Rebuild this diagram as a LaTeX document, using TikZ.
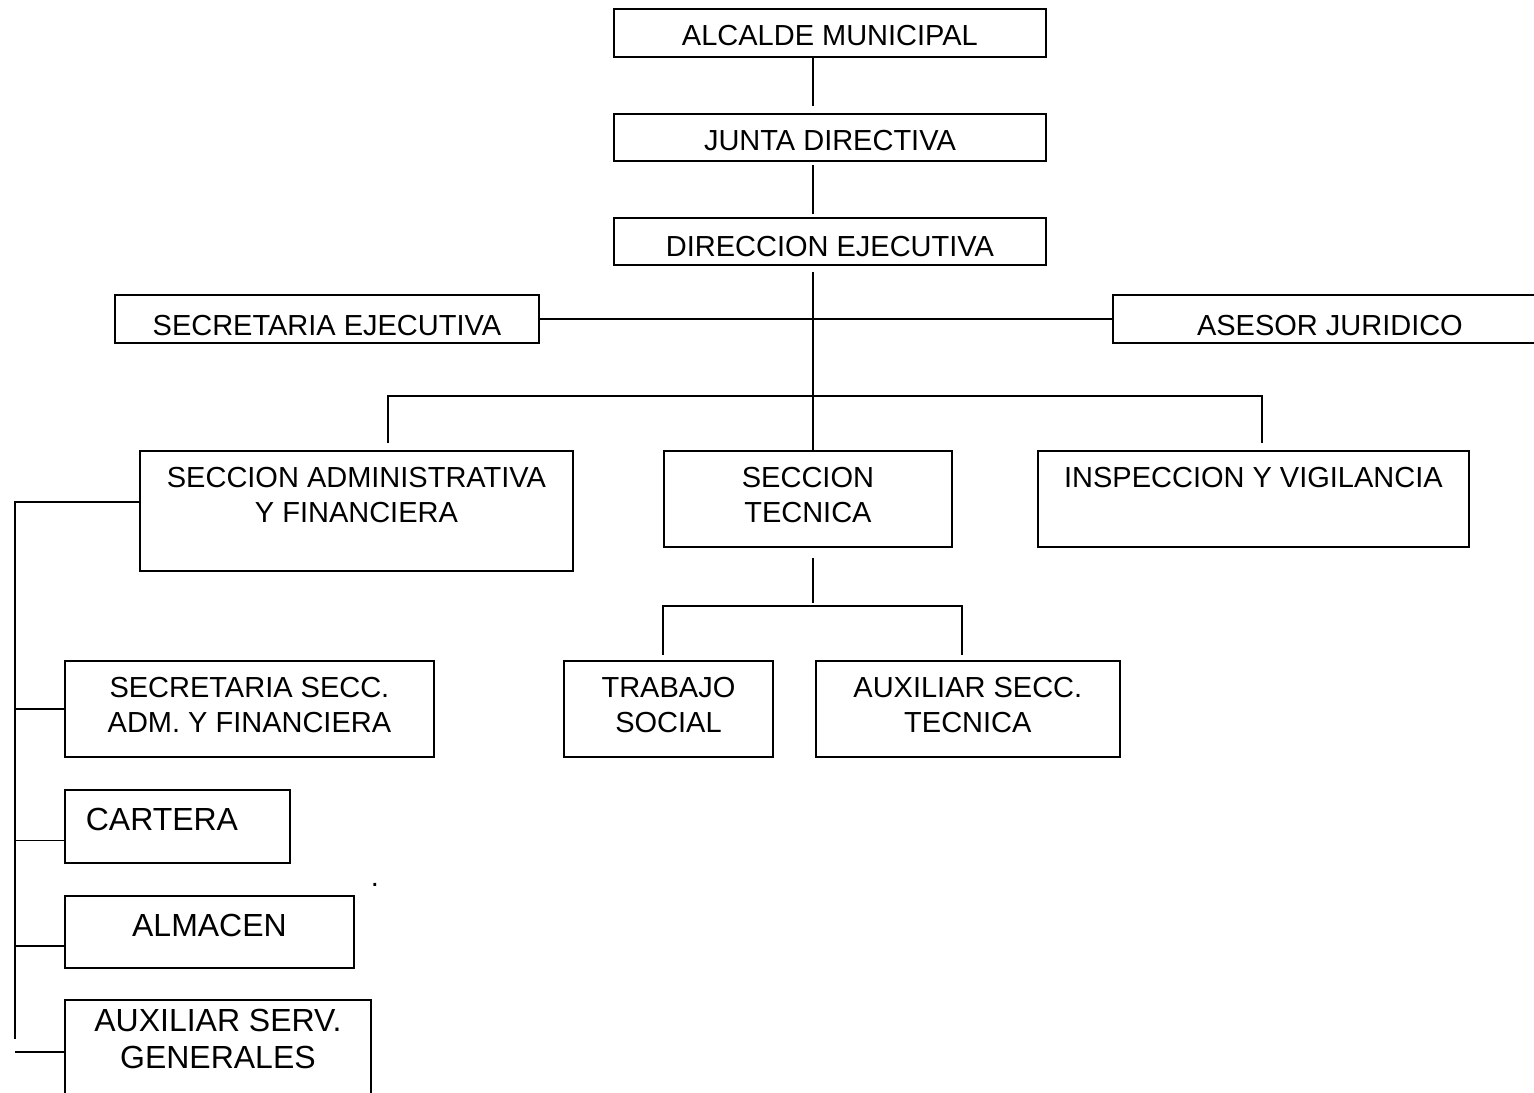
\documentclass[tikz,border=0pt]{standalone}
\usepackage{fontspec}
\setmainfont{Liberation Sans}
\usetikzlibrary{positioning,calc}

\begin{document}
\begin{tikzpicture}[
    x=0.02cm, y=-0.02cm,
    line width=1.1pt,
    orgbox/.style={draw, rectangle, inner sep=0pt, anchor=north west, align=center, text height=0.74cm, font=\fontsize{16.5}{19.75}\selectfont},
    two lines/.style={text height=1.43cm},
    big text/.style={font=\fontsize{18.2}{20.9}\selectfont}
]
  \useasboundingbox (0,0) rectangle (1534,1092);
  \clip (0,0) rectangle (1534,1092);

  % upper chain
  \node[orgbox, minimum width=8.64cm, text depth=0.22cm] (alcalde) at (613,8) {ALCALDE MUNICIPAL};
  \node[orgbox, minimum width=8.64cm, text depth=0.20cm, below=1.1cm of alcalde] (junta) {JUNTA DIRECTIVA};
  \node[orgbox, minimum width=8.64cm, text height=0.77cm, text depth=0.17cm, below=1.1cm of junta] (direccion) {DIRECCION EJECUTIVA};
  \node[orgbox, minimum width=8.48cm, text height=0.82cm, text depth=0.14cm] (secej) at (114,294) {SECRETARIA EJECUTIVA};
  \node[orgbox, minimum width=8.68cm, text height=0.82cm, text depth=0.14cm] (asesor) at (1112,294) {ASESOR JURIDICO};

  % sections
  \node[orgbox, two lines, minimum width=8.66cm, text depth=0.97cm] (admin) at (139,450) {SECCION ADMINISTRATIVA\\Y FINANCIERA};
  \node[orgbox, two lines, minimum width=5.76cm, text depth=0.49cm] (tecnica) at (663,450) {SECCION\\TECNICA};
  \node[orgbox, minimum width=8.62cm, text depth=1.18cm] (insp) at (1037,450) {INSPECCION Y VIGILANCIA};
  \node[orgbox, two lines, minimum width=4.18cm, text depth=0.49cm] (trabajo) at (563,660) {TRABAJO\\SOCIAL};
  \node[orgbox, two lines, minimum width=6.08cm, text depth=0.49cm, right=0.82cm of trabajo] (auxtec) {AUXILIAR SECC.\\TECNICA};

  % left column
  \node[orgbox, two lines, minimum width=7.38cm, text depth=0.49cm] (secadm) at (64,660) {SECRETARIA SECC.\\ADM. Y FINANCIERA};
  \node[orgbox, big text, minimum width=4.5cm, text height=0.82cm, text depth=0.64cm] (cartera) at (64,789) {CARTERA\hspace*{0.62cm}};
  \node[orgbox, big text, minimum width=5.78cm, text height=0.82cm, text depth=0.62cm] (almacen) at (64,895) {ALMACEN};
  \node[orgbox, big text, minimum width=6.12cm, text height=1.37cm, text depth=0.71cm] (auxserv) at (64,999) {AUXILIAR SERV.\\GENERALES};
  \node[font=\fontsize{16.5}{19.75}\selectfont, inner sep=0pt, anchor=base] (stray) at (375,886) {.};

  \coordinate (spine) at (813,0);
  \coordinate (busl) at (388,396);
  \coordinate (busr) at (1262,396);
  \coordinate (subl) at (663,606);
  \coordinate (subr) at (962,606);
  \coordinate (ltop) at (15,502);
  \coordinate (lend) at (15,1039);

  \draw[shorten >=0.14cm] (alcalde.south -| spine) -- (junta.north -| spine);
  \draw[shorten <=0.06cm, shorten >=0.06cm] (junta.south -| spine) -- (direccion.north -| spine);
  \draw[shorten <=0.12cm] (direccion.south -| spine) -- (tecnica.north -| spine);
  \draw (secej) -- (asesor);
  \draw[shorten <=0.14cm, shorten >=0.14cm] (admin.north -| busl) -- (busl) -- (busr) -- (insp.north -| busr);
  \draw[shorten <=0.2cm, shorten >=0.06cm] (tecnica.south -| spine) -- (spine |- subl);
  \draw[shorten <=0.1cm, shorten >=0.1cm] (trabajo.north -| subl) -- (subl) -- (subr) -- (auxtec.north -| subr);

  % left branch
  \draw (ltop -| admin.west) -- (ltop) -- (lend);
  \draw (secadm.west -| ltop) -- (secadm.west);
  \draw ($(cartera.west -| ltop)+(0,14)$) -- ($(cartera.west)+(0,14)$);
  \draw ($(almacen.west -| ltop)+(0,14)$) -- ($(almacen.west)+(0,14)$);
  \draw (auxserv.west -| ltop) -- (auxserv.west);
\end{tikzpicture}
\end{document}
